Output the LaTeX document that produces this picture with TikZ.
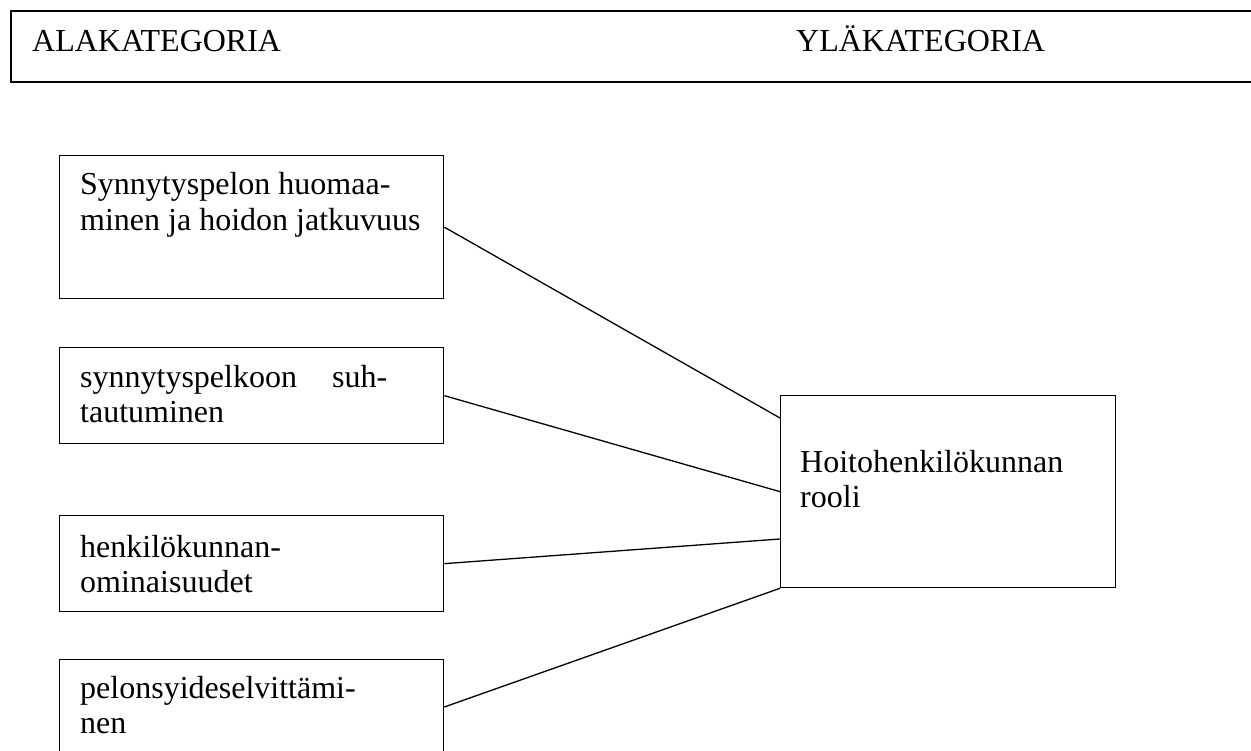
\documentclass[tikz,border=0pt]{standalone}
\usepackage{fontspec}
\setmainfont{Liberation Serif}
\usetikzlibrary{calc}

\tikzset{
  frame/.style={draw, line width=1.3pt, inner sep=0pt, anchor=north west},
  boxtext/.style={anchor=base west, inner sep=0pt, align=left,
                  font=\fontsize{32pt}{35.5pt}\selectfont},
  link/.style={line width=1.3pt},
  headrule/.style={line width=1.8pt}
}

\begin{document}
\begin{tikzpicture}[x=1pt, y=-1pt]
  \useasboundingbox (0,0) rectangle (1251,751);
  \clip (0,0) rectangle (1251,751);

  % header band, open to the right
  \draw[headrule] (1260,11) -- (11,11) -- (11,82) -- (1260,82);
  \node[boxtext] (hleft)  at (32,52)  {ALAKATEGORIA};
  \node[boxtext] (hright) at (796,52) {YLÄKATEGORIA};

  % subcategory boxes (text placed by the baseline of its last line)
  \node[frame, minimum width=384pt, minimum height=143pt] (b1) at (59,155) {};
  \node[boxtext] (t1) at (80,230.5) {Synnytyspelon huomaa-\\minen ja hoidon jatkuvuus};

  \node[frame, minimum width=384pt, minimum height=96pt] (b2) at (59,347) {};
  \node[boxtext] (t2) at (80,422.5) {\makebox[252pt][l]{synnytyspelkoon}suh-\\tautuminen};

  \node[frame, minimum width=384pt, minimum height=96pt] (b3) at (59,515) {};
  \node[boxtext] (t3) at (80,592.5) {henkilökunnan-\\ominaisuudet};

  \node[frame, minimum width=384pt, minimum height=110pt] (b4) at (59,659) {};
  \node[boxtext] (t4) at (80,733.5) {pelonsyideselvittämi-\\nen};

  % main category box
  \node[frame, minimum width=335pt, minimum height=192pt] (r) at (780,395) {};
  \node[boxtext] (tr) at (800,507.5) {Hoitohenkilökunnan\\rooli};

  % connectors
  \draw[link] (b1.east) -- ($(r.north west)+(0,23)$);
  \draw[link] (b2.east) -- (r.west);
  \draw[link] (b3.east) -- ($(r.north west)+(0,144)$);
  \draw[link] ($(b4.north east)+(0,48)$) -- (r.south west);
\end{tikzpicture}
\end{document}
